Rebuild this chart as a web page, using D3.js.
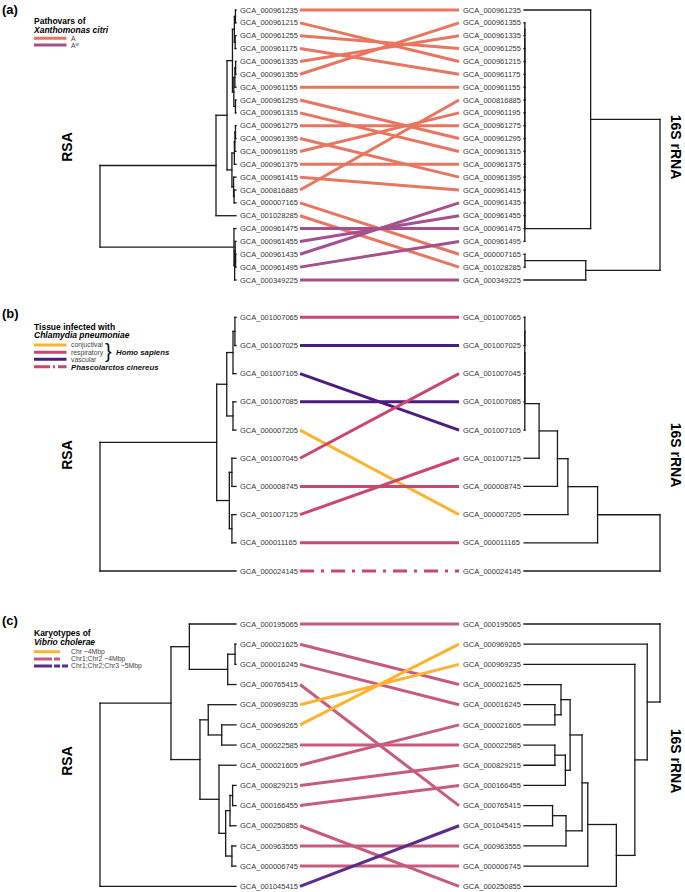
<!DOCTYPE html>
<html><head><meta charset="utf-8">
<script src="https://cdn.jsdelivr.net/npm/d3@7"></script>
<style>
body{margin:0;background:#fff}
svg{display:block}
text{font-family:"Liberation Sans",Arial,Helvetica,sans-serif}
</style>
</head><body><svg id="chart" width="685" height="892"></svg>
<script>
// ===================== DATA =====================
// ---- Panel (a): Xanthomonas citri
const aLeftOrder = ["000961235","000961215","000961255","000961175","000961335","000961355","000961155","000961295","000961315","000961275","000961395","000961195","000961375","000961415","000816885","000007165","001028285","000961475","000961455","000961435","000961495","000349225"];
const aRightOrder = ["000961235","000961355","000961335","000961255","000961215","000961175","000961155","000816885","000961195","000961275","000961295","000961315","000961375","000961395","000961415","000961435","000961455","000961475","000961495","000007165","001028285","000349225"];
const aGroup = ["A","A","A","A","A","A","A","A","A","A","A","A","A","A","A","A","A","Aw","Aw","Aw","Aw","Aw"];
// trees: [height, child, child]; leaves are accession strings
const aLeftTree = [1.0,
  [0.147,
    [0.066,
      [0.026,
        [0.012,[0.004,"000961235","000961215"],[0.006,"000961255","000961175"]],
        [0.016,[0.008,[0.003,"000961335","000961355"],"000961155"],[0.004,"000961295","000961315"]]],
      [0.03,
        [0.012,[0.008,[0.004,"000961275","000961395"],"000961195"],"000961375"],
        [0.018,"000961415",[0.014,"000816885","000007165"]]]],
    "001028285"],
  [0.015,"000961475",[0.01,[0.006,"000961455",[0.003,"000961435","000961495"]],"000349225"]]];
const aRightTree = [1.0,
  [0.49,"000961235",
    [0.006,[0.006,[0.006,[0.006,[0.006,[0.006,[0.006,[0.006,[0.006,[0.006,[0.006,[0.006,[0.006,[0.006,[0.006,[0.006,[0.006,
      "000961355","000961335"],"000961255"],"000961215"],"000961175"],"000961155"],"000816885"],"000961195"],"000961275"],
      "000961295"],"000961315"],"000961375"],"000961395"],"000961415"],"000961435"],"000961455"],"000961475"],"000961495"]],
  [0.454,[0.007,"000007165","001028285"],"000349225"]];

// ---- Panel (b): Chlamydia pneumoniae
const bLeftOrder = ["001007065","001007025","001007105","001007085","000007205","001007045","000008745","001007125","000011165","000024145"];
const bRightOrder = ["001007065","001007025","001007045","001007085","001007105","001007125","000008745","000007205","000011165","000024145"];
const bTissue = ["respiratory","vascular","vascular","vascular","conjuctival","respiratory","respiratory","respiratory","respiratory","koala"];
const bLeftTree = [1.0,
  [0.142,
    [0.068,[0.022,[0.008,"001007065","001007025"],"001007105"],[0.022,"001007085","000007205"]],
    [0.049,[0.03,"001007045","000008745"],[0.03,"001007125","000011165"]]],
  "000024145"];
const bRightTree = [1.0,
  [0.541,[0.323,[0.246,[0.111,
    [0.006,[0.006,[0.006,[0.006,"001007065","001007025"],"001007045"],"001007085"],"001007105"],
    "001007125"],"000008745"],"000007205"],"000011165"],
  "000024145"];

// ---- Panel (c): Vibrio cholerae
const cLeftOrder = ["000195065","000021625","000016245","000765415","000969235","000969265","000022585","000021605","000829215","000166455","000250855","000963555","000006745","001045415"];
const cRightOrder = ["000195065","000969265","000969235","000021625","000016245","000021605","000022585","000829215","000166455","000765415","001045415","000963555","000006745","000250855"];
const cKaryo = ["chr12","chr12","chr12","chr12","chr1","chr1","chr12","chr12","chr12","chr12","chr12","chr12","chr12","chr123"];
const cLeftTree = [1.0,
  [0.478,
    [0.343,"000195065",[0.061,[0.007,"000021625","000016245"],"000765415"]],
    [0.265,
      [0.204,"000969235",[0.105,"000969265","000022585"]],
      [0.125,"000021605",[0.076,[0.044,[0.025,"000829215","000166455"],"000250855"],[0.03,"000963555","000006745"]]]]],
  "001045415"];
const cRightTree = [1.0,"000195065",
  [0.906,"000969265",
    [0.815,"000969235",
      [0.679,
        [0.469,
          [0.427,
            [0.339,[0.272,"000021625",[0.227,"000016245","000021605"]],[0.304,[0.227,"000022585","000829215"],"000166455"]],
            [0.309,[0.21,"000765415","001045415"],"000963555"]],
          "000006745"],
        "000250855"]]]];

// ===================== STYLES =====================
const colA = {A:"#e8755f", Aw:"#a54f8c"};
const colB = {conjuctival:"#fdb32f", respiratory:"#c9476e", vascular:"#4a1c7f", koala:"#c9476e"};
const colC = {chr1:"#fdb32f", chr12:"#c75b7d", chr123:"#5a2c8c"};

const svg = d3.select("#chart");
const LEAF_L = 236, ROOT_L = 100, LEAF_R = 524, ROOT_R = 660;
const LINE_X0 = 300, LINE_X1 = 459;

function drawPanel(cfg){
  const g = svg.append("g");
  const yL = d3.scaleLinear().domain([0, cfg.left.length-1]).range(cfg.yRange);
  const yR = d3.scaleLinear().domain([0, cfg.right.length-1]).range(cfg.yRange);
  const xL = d3.scaleLinear().domain([0,1]).range([LEAF_L, ROOT_L]);
  const xR = d3.scaleLinear().domain([0,1]).range([LEAF_R, ROOT_R]);
  function tree(t, order, ys, xs){
    const segs = [];
    function walk(n){
      if (typeof n === "string") return {x: xs(0), y: ys(order.indexOf(n))};
      const a = walk(n[1]), b = walk(n[2]);
      const p = {x: xs(n[0]), y: (a.y + b.y)/2};
      segs.push([p.x, a.y, p.x, b.y], [p.x, a.y, a.x, a.y], [p.x, b.y, b.x, b.y]);
      return p;
    }
    walk(t);
    g.append("g").selectAll("line").data(segs).join("line")
      .attr("x1", d=>d[0]).attr("y1", d=>d[1]).attr("x2", d=>d[2]).attr("y2", d=>d[3])
      .attr("stroke", "#1a1a1a").attr("stroke-width", 1.3).attr("stroke-linecap","square");
  }
  tree(cfg.leftTree, cfg.left, yL, xL);
  tree(cfg.rightTree, cfg.right, yR, xR);
  // connectors
  g.append("g").selectAll("line").data(cfg.left).join("line")
    .attr("x1", LINE_X0).attr("x2", LINE_X1)
    .attr("y1", (d,i)=>yL(i)).attr("y2", d=>yR(cfg.right.indexOf(d)))
    .attr("stroke", (d,i)=>cfg.color(i)).attr("stroke-width", 3)
    .attr("stroke-dasharray", (d,i)=>cfg.dash ? cfg.dash(i) : null);
  // labels
  g.append("g").selectAll("text").data(cfg.left).join("text")
    .attr("x", 240).attr("y", (d,i)=>yL(i)).attr("dy","0.35em")
    .attr("font-size", 7.5).attr("fill","#333").text(d=>"GCA_"+d);
  g.append("g").selectAll("text").data(cfg.right).join("text")
    .attr("x", 463).attr("y", (d,i)=>yR(i)).attr("dy","0.35em")
    .attr("font-size", 7.5).attr("fill","#333").text(d=>"GCA_"+d);
  // axis titles
  const yc = cfg.titleY;
  g.append("text").attr("transform", `translate(72,${yc}) rotate(-90)`).attr("text-anchor","middle")
    .attr("font-size", 14).attr("font-weight","bold").text("RSA");
  g.append("text").attr("transform", `translate(671,${yc}) rotate(90)`).attr("text-anchor","middle")
    .attr("font-size", 14).attr("font-weight","bold").text("16S rRNA");
  g.append("text").attr("x", 2).attr("y", cfg.tagY).attr("font-size", 13).attr("font-weight","bold").text(cfg.tag);
}

drawPanel({left:aLeftOrder, right:aRightOrder, leftTree:aLeftTree, rightTree:aRightTree,
  yRange:[10,280], color:i=>colA[aGroup[i]], titleY:147, tagY:14, tag:"(a)"});
drawPanel({left:bLeftOrder, right:bRightOrder, leftTree:bLeftTree, rightTree:bRightTree,
  yRange:[317.3,571], color:i=>colB[bTissue[i]], dash:i=>bTissue[i]==="koala"?"14,7,3,7":null,
  titleY:455, tagY:318, tag:"(b)"});
drawPanel({left:cLeftOrder, right:cRightOrder, leftTree:cLeftTree, rightTree:cRightTree,
  yRange:[624,886.3], color:i=>colC[cKaryo[i]], titleY:761, tagY:625, tag:"(c)"});

// ===================== LEGENDS =====================
function legendTitle(y, t1, t2){
  svg.append("text").attr("x",34).attr("y",y).attr("font-size",8.5).attr("font-weight","bold").text(t1);
  svg.append("text").attr("x",34).attr("y",y+8.5).attr("font-size",8.5).attr("font-weight","bold")
    .attr("font-style","italic").text(t2);
}
function legendItem(y, color, dash, x2){
  svg.append("line").attr("x1",34).attr("x2",x2||66.5).attr("y1",y).attr("y2",y)
    .attr("stroke",color).attr("stroke-width",3).attr("stroke-dasharray",dash||null);
}
function legendLabel(y, txt, opts){
  const t = svg.append("text").attr("x",71).attr("y",y).attr("dy","0.35em").attr("font-size",6.8).attr("fill","#444");
  if (opts && opts.bold){ t.attr("font-weight","bold").attr("font-style","italic").attr("fill","#111").attr("font-size",7.8); }
  t.text(txt);
  return t;
}
// (a)
legendTitle(24, "Pathovars of", "Xanthomonas citri");
legendItem(38.3, colA.A); legendItem(45, colA.Aw);
legendLabel(38.3, "A");
const aw = svg.append("text").attr("x",71).attr("y",45.5).attr("dy","0.35em").attr("font-size",6.8).attr("fill","#444");
aw.append("tspan").text("A");
aw.append("tspan").attr("font-size",4.5).attr("dy","-2.2").text("w");
// (b)
legendTitle(329.5, "Tissue infected with", "Chlamydia pneumoniae");
legendItem(345, colB.conjuctival); legendItem(352.3, colB.respiratory); legendItem(359.3, colB.vascular);
legendItem(366.7, colB.koala, "16,3,2,3");
legendLabel(345, "conjuctival"); legendLabel(352.3, "respiratory"); legendLabel(359.3, "vascular");
legendLabel(367.2, "Phascolarctos cinereus", {bold:true});
svg.append("text").attr("x",105).attr("y",358).attr("font-size",20).attr("font-weight","300")
  .attr("fill","#111").text("}");
svg.append("text").attr("x",116).attr("y",352.5).attr("dy","0.35em").attr("font-size",7.8)
  .attr("font-weight","bold").attr("font-style","italic").attr("fill","#111").text("Homo sapiens");
// (c)
legendTitle(636, "Karyotypes of", "Vibrio cholerae");
legendItem(651.7, colC.chr1, null, 60);
legendItem(659, colC.chr12, "18,2,6", 60);
legendItem(666, colC.chr123, "18,2,6,2,6", 68);
legendLabel(651.7, "Chr ~4Mbp"); legendLabel(659, "Chr1;Chr2 ~4Mbp"); legendLabel(666, "Chr1;Chr2;Chr3 ~5Mbp");
</script>
</body></html>
